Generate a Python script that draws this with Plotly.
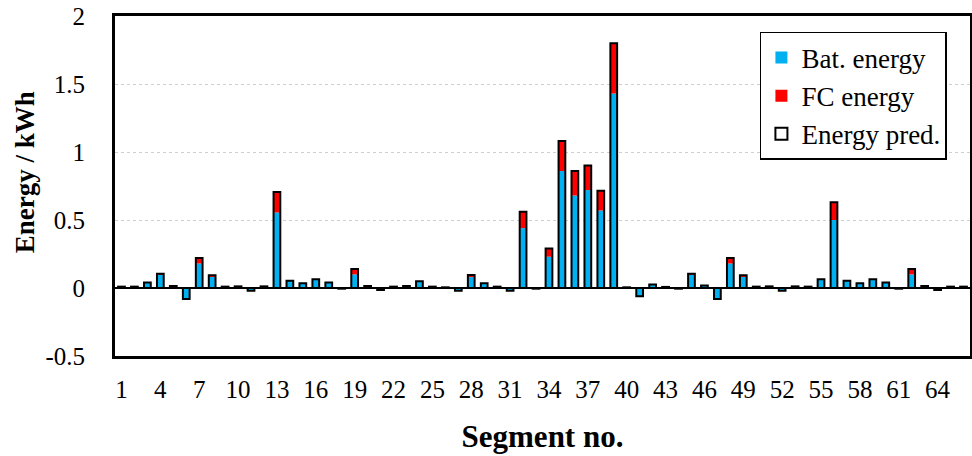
import plotly.graph_objects as go

segments = list(range(1, 67))
bat_energy = [0.01, 0.01, 0.04, 0.10, 0.015, -0.08, 0.18, 0.085, 0.01, 0.012,
              -0.02, 0.012, 0.555, 0.054, 0.035, 0.064, 0.04, -0.005, 0.10, 0.015,
              -0.015, 0.01, 0.015, 0.05, 0.01, 0.005, -0.02, 0.08, 0.035, 0.01,
              -0.02, 0.44, -0.005, 0.23, 0.86, 0.68, 0.72, 0.57, 1.43, 0.005,
              -0.06, 0.025, 0.008, -0.005, 0.10, 0.018, -0.08, 0.18, 0.085, 0.01,
              0.012, -0.02, 0.012, 0.01, 0.064, 0.50, 0.054, 0.035, 0.064, 0.04,
              -0.005, 0.10, 0.015, -0.015, 0.01, 0.01]
fc_energy = [0, 0, 0, 0.005, 0, 0, 0.04, 0.008, 0, 0,
             0, 0, 0.15, 0, 0, 0, 0, 0, 0.04, 0,
             0, 0, 0, 0, 0, 0, 0, 0.015, 0, 0,
             0, 0.12, 0, 0.06, 0.22, 0.18, 0.18, 0.145, 0.37, 0,
             0, 0, 0, 0, 0.005, 0, 0, 0.04, 0.008, 0,
             0, 0, 0, 0, 0, 0.13, 0, 0, 0, 0,
             0, 0.04, 0, 0, 0, 0]
energy_pred = [0.01, 0.01, 0.04, 0.105, 0.015, -0.08, 0.22, 0.093, 0.01, 0.012,
               -0.02, 0.012, 0.705, 0.054, 0.035, 0.064, 0.04, -0.005, 0.14, 0.015,
               -0.015, 0.01, 0.015, 0.05, 0.01, 0.005, -0.02, 0.095, 0.035, 0.01,
               -0.02, 0.56, -0.005, 0.29, 1.08, 0.86, 0.90, 0.715, 1.80, 0.005,
               -0.06, 0.025, 0.008, -0.005, 0.105, 0.018, -0.08, 0.22, 0.093, 0.01,
               0.012, -0.02, 0.012, 0.01, 0.064, 0.63, 0.054, 0.035, 0.064, 0.04,
               -0.005, 0.14, 0.015, -0.015, 0.01, 0.01]
x_ticks = list(range(1, 65, 3))
y_ticks = [-0.5, 0, 0.5, 1, 1.5, 2]

BLUE = "#00B0F0"
RED = "#FF0000"
SERIF = "Liberation Serif, Times New Roman, serif"
BW = 0.52

fig = go.Figure()
fig.add_trace(go.Bar(x=segments, y=bat_energy, name="Bat. energy", width=BW,
                     marker=dict(color=BLUE, line=dict(width=0)),
                     legendgroup="a"))
fig.add_trace(go.Bar(x=segments, y=fc_energy, base=bat_energy, name="FC energy", width=BW,
                     marker=dict(color=RED, line=dict(width=0)),
                     legendgroup="b"))
fig.add_trace(go.Bar(x=segments, y=energy_pred, name="Energy pred.", width=BW,
                     marker=dict(color="rgba(0,0,0,0)", line=dict(width=2, color="black")),
                     legendgroup="c"))

fig.update_layout(
    width=972, height=456,
    barmode="overlay",
    plot_bgcolor="white", paper_bgcolor="white",
    margin=dict(l=115, r=2, t=16, b=100, autoexpand=False),
    font=dict(family=SERIF, color="black", size=24),
    showlegend=True,
    legend=dict(x=0.973, y=0.953, xanchor="right", yanchor="top",
                bordercolor="black", borderwidth=1.5, bgcolor="white",
                font=dict(family=SERIF, size=27), traceorder="grouped",
                tracegroupgap=0, itemwidth=30),
    annotations=[dict(text="<b>Energy / kWh</b>", textangle=-90,
                      xref="paper", yref="paper", x=-0.105, y=0.541,
                      xanchor="center", yanchor="middle", showarrow=False,
                      font=dict(size=27, family=SERIF))],
)
fig.update_xaxes(
    range=[0.5, 66.5], tickmode="array", tickvals=x_ticks,
    ticktext=[str(v) for v in x_ticks], ticks="", ticklabelstandoff=9,
    tickfont=dict(size=25, family=SERIF),
    showline=True, mirror=True, linewidth=3, linecolor="black",
    showgrid=False, zeroline=False,
    title=dict(text="<b>Segment no.</b>", font=dict(size=31, family=SERIF), standoff=24),
)
fig.update_yaxes(
    range=[-0.5, 2], tickmode="array", tickvals=y_ticks,
    ticktext=[("%g" % v) for v in y_ticks], ticks="", ticklabelstandoff=22,
    tickfont=dict(size=25, family=SERIF),
    showline=True, mirror=True, linewidth=3, linecolor="black",
    showgrid=True, gridcolor="#cfcfcf", griddash="dot", gridwidth=1,
    zeroline=True, zerolinecolor="black", zerolinewidth=2,
)

fig.write_html("out.html")
